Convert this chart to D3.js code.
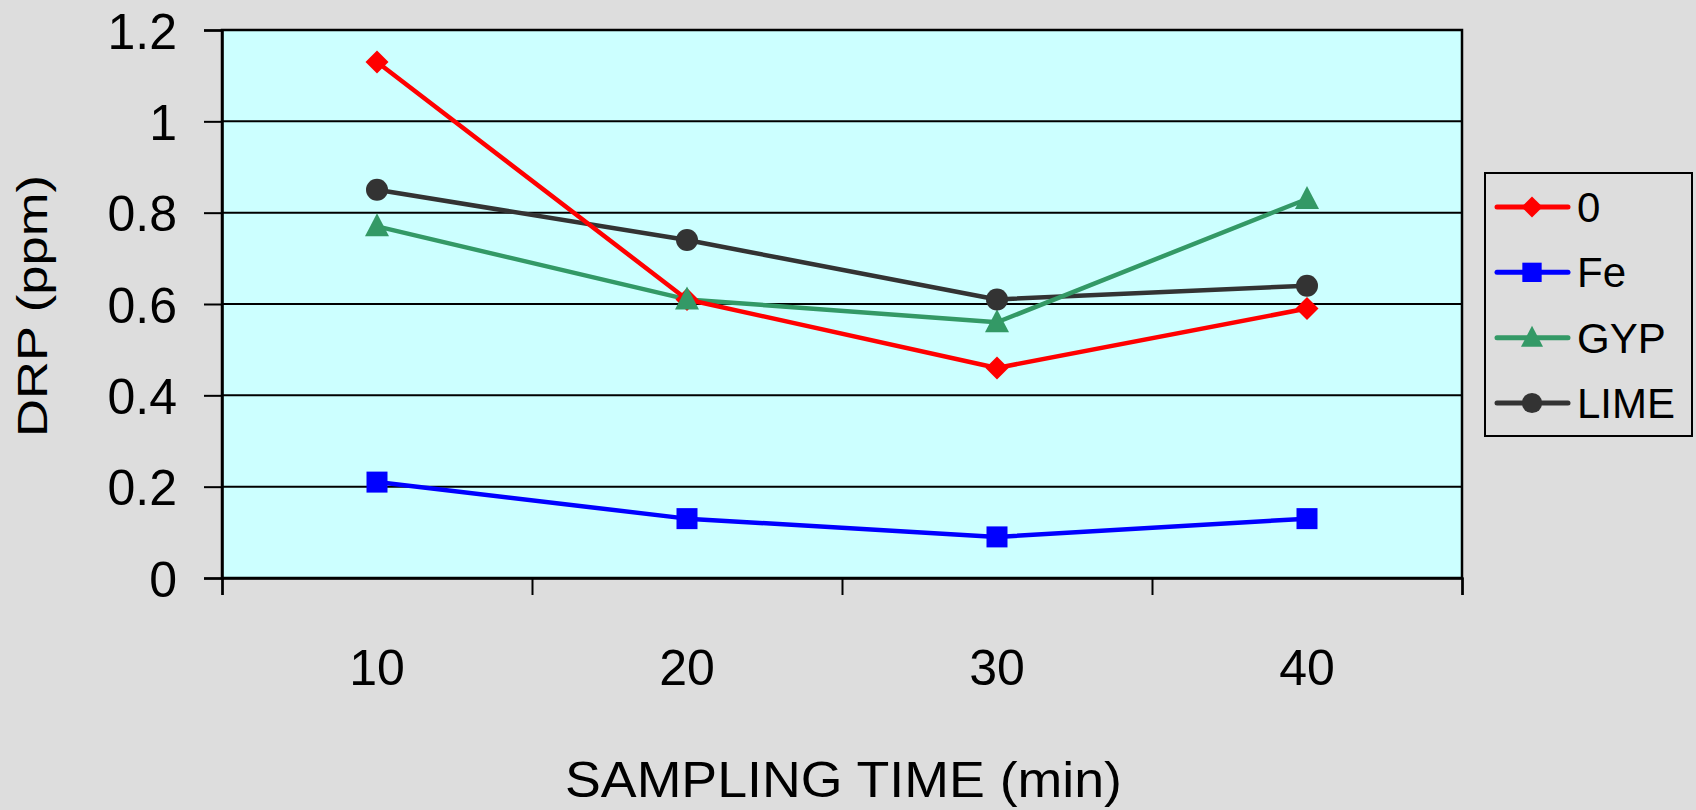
<!DOCTYPE html>
<html>
<head>
<meta charset="utf-8">
<script src="https://cdn.jsdelivr.net/npm/d3@7"></script>
<style>
html,body{margin:0;padding:0;background:#dddddd;}
svg{display:block;font-family:"Liberation Sans",Arial,sans-serif;}
</style>
</head>
<body>
<svg id="chart" width="1696" height="810"></svg>
<script>
const categories = ["10", "20", "30", "40"];
const yTicks = [0, 0.2, 0.4, 0.6, 0.8, 1, 1.2];
const seriesNames = ["0", "Fe", "GYP", "LIME"];
const values0 = [1.13, 0.61, 0.46, 0.59];
const valuesFe = [0.21, 0.13, 0.09, 0.13];
const valuesGYP = [0.77, 0.61, 0.56, 0.83];
const valuesLIME = [0.85, 0.74, 0.61, 0.64];
const xTitle = "SAMPLING TIME (min)";
const yTitle = "DRP (ppm)";

const series = [
  {name: seriesNames[0], values: values0, color: "#ff0000", shape: "diamond"},
  {name: seriesNames[1], values: valuesFe, color: "#0000ff", shape: "square"},
  {name: seriesNames[2], values: valuesGYP, color: "#339966", shape: "triangle"},
  {name: seriesNames[3], values: valuesLIME, color: "#333333", shape: "circle"}
];

const L = 222, R = 1462, T = 30, B = 578;
const svg = d3.select("#chart");

const x = d3.scaleBand().domain(categories).range([L, R]).padding(0);
const xc = c => x(c) + x.bandwidth() / 2;
const y = d3.scaleLinear().domain([0, 1.2]).range([B, T]);

// plot background
svg.append("rect").attr("x", L).attr("y", T).attr("width", R - L).attr("height", B - T)
  .attr("fill", "#ccffff");

// gridlines
svg.append("g").selectAll("line").data(yTicks.filter(v => v > 0 && v < 1.2)).join("line")
  .attr("x1", L).attr("x2", R).attr("y1", d => y(d)).attr("y2", d => y(d))
  .attr("stroke", "#000").attr("stroke-width", 2);

// plot frame
svg.append("rect").attr("x", L).attr("y", T).attr("width", R - L).attr("height", B - T)
  .attr("fill", "none").attr("stroke", "#000").attr("stroke-width", 2.5);

// y axis
const yAxis = svg.append("g").attr("transform", `translate(${L},0)`)
  .call(d3.axisLeft(y).tickValues(yTicks).tickSize(18).tickPadding(27)
    .tickFormat(d => d3.format("~g")(d)));
yAxis.select(".domain").attr("stroke", "#000").attr("stroke-width", 2.5);
yAxis.selectAll(".tick line").attr("stroke", "#000").attr("stroke-width", 2);
yAxis.selectAll(".tick text").attr("font-size", 50).attr("fill", "#000")
  .attr("font-family", "Liberation Sans, Arial, sans-serif").attr("dy", "0.36em");

// x axis ticks at category boundaries
const xb = d3.scaleLinear().domain([0, categories.length]).range([L, R]);
const xAxisTicks = svg.append("g").attr("transform", `translate(0,${B})`)
  .call(d3.axisBottom(xb).tickValues(d3.range(categories.length + 1))
    .tickSize(17).tickFormat(""));
xAxisTicks.select(".domain").attr("stroke", "#000").attr("stroke-width", 2.5);
xAxisTicks.selectAll(".tick line").attr("stroke", "#000").attr("stroke-width", 2);

// x labels
const xAxisLabels = svg.append("g").attr("transform", `translate(0,${B})`)
  .call(d3.axisBottom(x).tickSize(0).tickPadding(0));
xAxisLabels.select(".domain").remove();
xAxisLabels.selectAll(".tick text").attr("font-size", 50).attr("fill", "#000")
  .attr("font-family", "Liberation Sans, Arial, sans-serif").attr("dy", 0).attr("y", 107);

// titles
svg.append("text").attr("x", 843.5).attr("y", 797).attr("text-anchor", "middle")
  .attr("font-size", 50).attr("fill", "#000")
  .attr("textLength", 557).attr("lengthAdjust", "spacingAndGlyphs").text(xTitle);
svg.append("text").attr("transform", `translate(47,306) rotate(-90)`)
  .attr("text-anchor", "middle").attr("font-size", 42).attr("fill", "#000")
  .attr("textLength", 262).attr("lengthAdjust", "spacingAndGlyphs").text(yTitle);

// marker generator
function markerPath(shape) {
  switch (shape) {
    case "diamond": return "M0,-11.5L11.5,0L0,11.5L-11.5,0Z";
    case "square": return "M-10.5,-10.5H10.5V10.5H-10.5Z";
    case "triangle": return "M0,-13L12,10L-12,10Z";
    default: return d3.symbol(d3.symbolCircle, Math.PI * 11 * 11)();
  }
}

const line = d3.line().x((d, i) => xc(categories[i])).y(d => y(d));

// lines (drawn in reverse so red sits on top)
svg.append("g").selectAll("path").data(series.slice().reverse()).join("path")
  .attr("d", s => line(s.values)).attr("fill", "none")
  .attr("stroke", s => s.color).attr("stroke-width", 4.5).attr("stroke-linejoin", "round");

// markers
series.forEach(s => {
  svg.append("g").selectAll("path").data(s.values).join("path")
    .attr("transform", (d, i) => `translate(${xc(categories[i])},${y(d)})`)
    .attr("d", markerPath(s.shape)).attr("fill", s.color);
});

// legend
const lg = svg.append("g");
lg.append("rect").attr("x", 1485).attr("y", 173).attr("width", 207).attr("height", 263)
  .attr("fill", "#dddddd").attr("stroke", "#000").attr("stroke-width", 2);
const rowY = d3.scalePoint().domain(seriesNames).range([207, 403]);
series.forEach(s => {
  const g = lg.append("g").attr("transform", `translate(0,${rowY(s.name)})`);
  g.append("line").attr("x1", 1497).attr("x2", 1568).attr("stroke", s.color)
    .attr("stroke-width", 5).attr("stroke-linecap", "round");
  g.append("path").attr("transform", "translate(1532,0) scale(0.92)")
    .attr("d", markerPath(s.shape)).attr("fill", s.color);
  g.append("text").attr("x", 1577).attr("y", 15).attr("font-size", 42).attr("fill", "#000")
    .text(s.name);
});
</script>
</body>
</html>
